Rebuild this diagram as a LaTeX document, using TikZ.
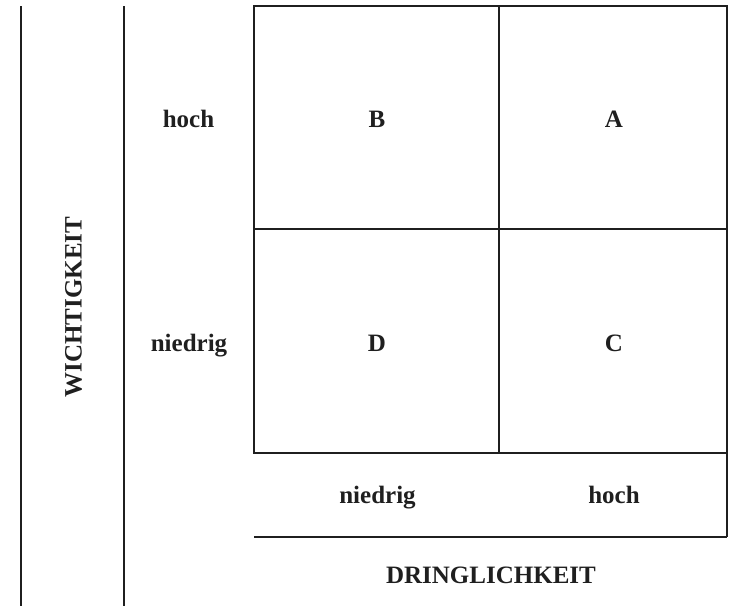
\documentclass[tikz,border=0pt]{standalone}
\usepackage{fontspec}
\setmainfont{Liberation Serif}
\begin{document}
\begin{tikzpicture}[x=1pt,y=-1pt,
  rule/.style={line width=1.6pt,color=black!88},
  lbl/.style={font=\fontsize{25}{28}\selectfont\bfseries,text=black!88,inner sep=0pt,anchor=base}]
\useasboundingbox (0,0) rectangle (730,606);

% side rules of the importance column
\draw[rule] (21,6) -- (21,606);
\draw[rule] (124,6) -- (124,606);

% the four-field matrix
\draw[rule] (254,6) rectangle (727,453);
\draw[rule] (499,6) -- (499,453);
\draw[rule] (254,229) -- (727,229);

% urgency row beneath the matrix
\draw[rule] (727,453) -- (727,537);
\draw[rule] (254,537) -- (727,537);

% quadrant letters
\node[lbl] (b) at (377,127.5) {B};
\node[lbl] (a) at (614,127.5) {A};
\node[lbl] (d) at (377,351) {D};
\node[lbl] (c) at (614,351) {C};

% importance scale
\node[lbl] (wh) at (188.5,127.5) {hoch};
\node[lbl] (wn) at (189,351) {niedrig};
\node[lbl,rotate=90] (w) at (81.5,307) {WICHTIGKEIT};

% urgency scale
\node[lbl] (dn) at (377.5,503) {niedrig};
\node[lbl] (dh) at (614,503) {hoch};
\node[lbl] (dr) at (491,583) {DRINGLICHKEIT};
\end{tikzpicture}
\end{document}
